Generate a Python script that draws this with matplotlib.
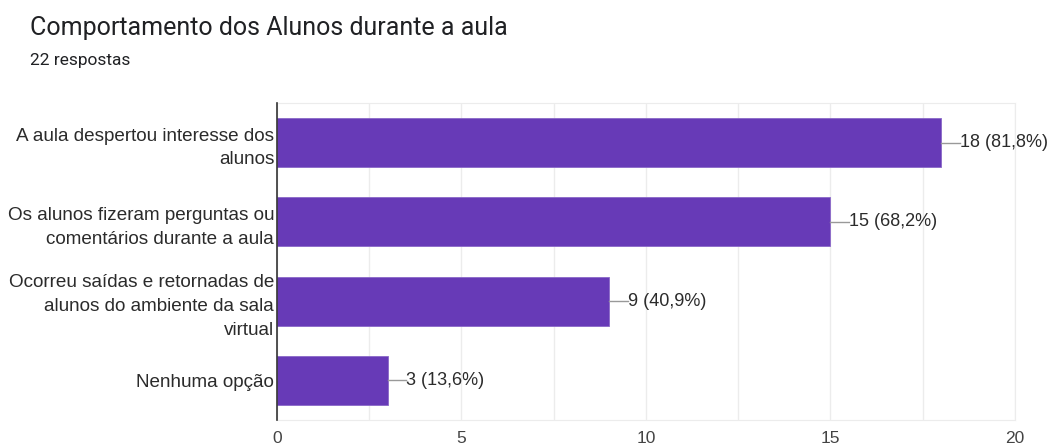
import numpy as np
import matplotlib.pyplot as plt
from matplotlib.ticker import MultipleLocator

plt.rcParams['font.family'] = ['Liberation Sans', 'DejaVu Sans']

categorias = [
    "A aula despertou interesse dos\nalunos",
    "Os alunos fizeram perguntas ou\ncomentários durante a aula",
    "Ocorreu saídas e retornadas de\nalunos do ambiente da sala\nvirtual",
    "Nenhuma opção",
]
respostas = [18, 15, 9, 3]
rotulos = ["18 (81,8%)", "15 (68,2%)", "9 (40,9%)", "3 (13,6%)"]
total = 22

fig = plt.figure(figsize=(10.52, 4.48), dpi=100)
ax = fig.add_axes([0.2633, 0.0625, 0.7015, 0.7075])

y = np.arange(len(categorias))
ax.barh(y, respostas, height=0.62, color='#673ab7', edgecolor='#8a68c8',
        linewidth=0.6, zorder=3)

ax.set_xlim(0, 20)
ax.set_ylim(3.5, -0.5)
ax.xaxis.set_major_locator(MultipleLocator(5))
ax.xaxis.set_minor_locator(MultipleLocator(2.5))
ax.grid(axis='x', which='both', color='#ececec', linewidth=1, zorder=0)
ax.set_yticks(y)
ax.set_yticklabels(categorias, fontsize=13.6, color='#2b2b2b', linespacing=1.52)
ax.tick_params(axis='both', which='both', length=0)
ax.tick_params(axis='y', pad=2)
ax.tick_params(axis='x', pad=8, labelsize=12.5, labelcolor='#444444')

for s in ['top', 'right', 'bottom']:
    ax.spines[s].set_color('#ececec')
ax.spines['left'].set_color('#333333')
ax.spines['left'].set_linewidth(1.2)
ax.spines['left'].set_zorder(4)

# linha guia e rótulo de valor
for yi, v, txt in zip(y, respostas, rotulos):
    ax.plot([v, v + 0.5], [yi, yi], color='#999999', linewidth=1, zorder=4,
            clip_on=False)
    ax.text(v + 0.5, yi, txt, va='center', ha='left', fontsize=13,
            color='#2b2b2b', clip_on=False)

fig.text(0.0285, 0.937, "Comportamento dos Alunos durante a aula",
         fontsize=18, color='#202124', va='center', family=['Roboto'])
fig.text(0.0285, 0.866, f"{total} respostas", fontsize=12.5,
         color='#202124', va='center', family=['Roboto'])

fig.savefig('out.png', dpi=100)
